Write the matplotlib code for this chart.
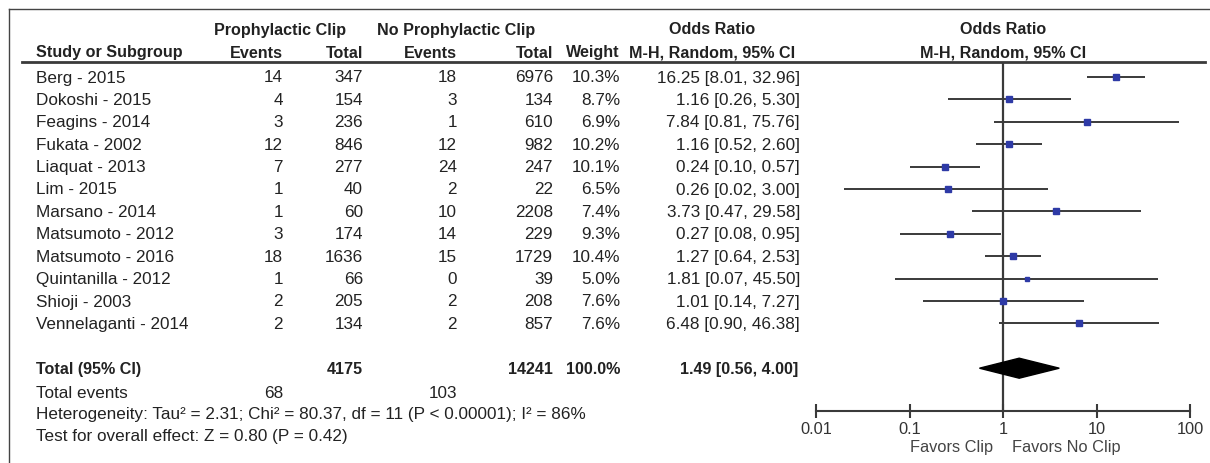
import matplotlib
matplotlib.use("Agg")
from matplotlib import pyplot as plt
import numpy as np

# ---- data ----
studies = ["Berg - 2015", "Dokoshi - 2015", "Feagins - 2014", "Fukata - 2002",
           "Liaquat - 2013", "Lim - 2015", "Marsano - 2014", "Matsumoto - 2012",
           "Matsumoto - 2016", "Quintanilla - 2012", "Shioji - 2003", "Vennelaganti - 2014"]
ev_clip = [14, 4, 3, 12, 7, 1, 1, 3, 18, 1, 2, 2]
n_clip = [347, 154, 236, 846, 277, 40, 60, 174, 1636, 66, 205, 134]
ev_noclip = [18, 3, 1, 12, 24, 2, 10, 14, 15, 0, 2, 2]
n_noclip = [6976, 134, 610, 982, 247, 22, 2208, 229, 1729, 39, 208, 857]
weight = [10.3, 8.7, 6.9, 10.2, 10.1, 6.5, 7.4, 9.3, 10.4, 5.0, 7.6, 7.6]
odds = [16.25, 1.16, 7.84, 1.16, 0.24, 0.26, 3.73, 0.27, 1.27, 1.81, 1.01, 6.48]
ci_lo = [8.01, 0.26, 0.81, 0.52, 0.10, 0.02, 0.47, 0.08, 0.64, 0.07, 0.14, 0.90]
ci_hi = [32.96, 5.30, 75.76, 2.60, 0.57, 3.00, 29.58, 0.95, 2.53, 45.50, 7.27, 46.38]

total_clip, total_noclip = 4175, 14241
events_clip, events_noclip = 68, 103
pooled, pooled_lo, pooled_hi = 1.49, 0.56, 4.00
ticks = [0.01, 0.1, 1, 10, 100]
tick_labels = ["0.01", "0.1", "1", "10", "100"]

# ---- layout (pixels) ----
W, H = 1210, 464
ROW0, STEP = 78, 22.4
def row(ypx):
    return (ypx - ROW0) / STEP

FONT = "Liberation Sans"
FS = 12.3      # normal text
FSB = 11.6     # bold text
TXT = "#222222"
LINE = "#3a3a3a"

fig = plt.figure(figsize=(W / 100, H / 100), dpi=100)
tab = fig.add_axes([0, 0, 1, 1])
tab.set_xlim(0, W)
tab.set_ylim(row(H), row(0))
tab.axis("off")

def t(x, r, s, ha="right", bold=False, **kw):
    tab.text(x, r, s, ha=ha, va="center", fontsize=FSB if bold else FS, family=FONT,
             color=TXT, fontweight="bold" if bold else "normal", **kw)

# frame + header rule
tab.plot([9, W], [row(10), row(10)], color="#444444", lw=1.0)
tab.plot([9, 9], [row(10), row(H)], color="#444444", lw=1.0)
tab.plot([22, 1205], [row(63), row(63)], color=LINE, lw=2.0)

# header
t(280, row(30), "Prophylactic Clip", ha="center", bold=True)
t(456, row(30), "No Prophylactic Clip", ha="center", bold=True)
t(712, row(30), "Odds Ratio", ha="center", bold=True)
t(1003, row(30), "Odds Ratio", ha="center", bold=True)
t(36, row(53), "Study or Subgroup", ha="left", bold=True)
t(283, row(53), "Events", bold=True)
t(363, row(53), "Total", bold=True)
t(457, row(53), "Events", bold=True)
t(553, row(53), "Total", bold=True)
t(620, row(53), "Weight", bold=True)
t(712, row(53), "M-H, Random, 95% CI", ha="center", bold=True)
t(1003, row(53), "M-H, Random, 95% CI", ha="center", bold=True)

# study rows
for i, name in enumerate(studies):
    t(36, i, name, ha="left")
    t(283, i, str(ev_clip[i]))
    t(363, i, str(n_clip[i]))
    t(457, i, str(ev_noclip[i]))
    t(553, i, str(n_noclip[i]))
    t(620, i, f"{weight[i]:.1f}%")
    t(800, i, f"{odds[i]:.2f} [{ci_lo[i]:.2f}, {ci_hi[i]:.2f}]")

# totals
rt = len(studies) + 1
t(36, rt, "Total (95% CI)", ha="left", bold=True)
t(363, rt, str(total_clip), bold=True)
t(553, rt, str(total_noclip), bold=True)
t(620, rt, "100.0%", bold=True)
t(798, rt, f"{pooled:.2f} [{pooled_lo:.2f}, {pooled_hi:.2f}]", bold=True)
t(36, row(393), "Total events", ha="left")
t(283, row(393), str(events_clip))
t(457, row(393), str(events_noclip))
t(36, row(415), "Heterogeneity: Tau\u00b2 = 2.31; Chi\u00b2 = 80.37, df = 11 (P < 0.00001); I\u00b2 = 86%", ha="left")
t(36, row(437), "Test for overall effect: Z = 0.80 (P = 0.42)", ha="left")

# ---- forest panel ----
x0, x1, ytop, ybot = 816, 1190, 63, 412
ax = fig.add_axes([x0 / W, 1 - ybot / H, (x1 - x0) / W, (ybot - ytop) / H])
ax.set_xscale("log")
ax.set_xlim(0.01, 100)
ax.set_ylim(row(ybot), row(ytop))
ax.patch.set_alpha(0)
for s in ["top", "left", "right"]:
    ax.spines[s].set_visible(False)
ax.spines["bottom"].set_color(LINE)
ax.spines["bottom"].set_linewidth(1.5)
ax.set_yticks([])
ax.set_xticks(ticks)
ax.set_xticklabels(tick_labels, family=FONT, fontsize=11.8, color="#333333")
ax.xaxis.set_minor_locator(matplotlib.ticker.NullLocator())
ax.tick_params(axis="x", direction="inout", length=10, width=1.5, color=LINE, pad=2)

ax.axvline(1, color=LINE, lw=1.6, zorder=1)
ys = np.arange(len(studies))
ax.hlines(ys, ci_lo, ci_hi, color=LINE, lw=1.4, zorder=2)
for i in range(len(studies)):
    ax.plot(odds[i], ys[i], marker="s", ms=1.5 * np.sqrt(weight[i]), color="#2e3aa6",
            mec="#2e3aa6", zorder=3)

dh = 10 / STEP
ax.fill([pooled_lo, pooled, pooled_hi, pooled], [rt, rt - dh, rt, rt + dh],
        color="black", zorder=3)

tab.text(993, row(447), "Favors Clip", ha="right", va="center", fontsize=11.8,
         family=FONT, color="#444444")
tab.text(1012, row(447), "Favors No Clip", ha="left", va="center", fontsize=11.8,
         family=FONT, color="#444444")

fig.savefig("out.png", dpi=100)
